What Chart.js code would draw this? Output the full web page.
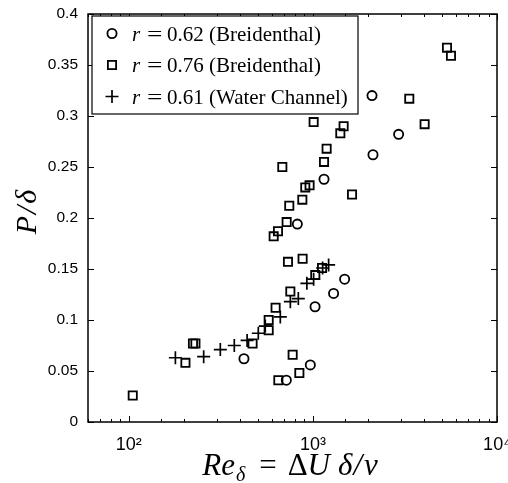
<!DOCTYPE html>
<html>
<head>
<meta charset="utf-8">
<script src="https://cdn.jsdelivr.net/npm/chart.js@4"></script>
<style>
  body { margin: 0; background: #fff; }
  #wrap { width: 508px; height: 483px; }
</style>
</head>
<body>
<div id="wrap"><canvas id="grafico" width="508" height="483"></canvas></div>
<script>
// r = 0.62 (Breidenthal)
const reCirculo = [2094, 2921, 2120, 1149, 823, 1487, 1295, 1027, 422, 968, 717];
const pCirculo  = [0.320, 0.282, 0.262, 0.238, 0.194, 0.140, 0.126, 0.113, 0.062, 0.056, 0.041];

// r = 0.76 (Breidenthal)
const reCuadro = [5350, 5623, 3338, 1009, 1468, 4044, 1409, 1187, 1149, 682, 959, 909, 1631, 876, 744,
                  720, 646, 612, 732, 879, 1121, 1030, 754, 627, 575, 575, 470, 223, 230, 203, 776,
                  844, 649, 105];
const pCuadro  = [0.367, 0.359, 0.317, 0.294, 0.290, 0.292, 0.283, 0.268, 0.255, 0.250, 0.232, 0.230,
                  0.223, 0.218, 0.212, 0.196, 0.187, 0.182, 0.157, 0.160, 0.151, 0.144, 0.128, 0.112,
                  0.100, 0.090, 0.077, 0.077, 0.077, 0.058, 0.066, 0.048, 0.041, 0.026];

// r = 0.61 (Water Channel)
const reCruz = [179, 255, 314, 374, 439, 505, 551, 665, 754, 833, 927, 1009, 1129, 1217];
const pCruz  = [0.063, 0.064, 0.071, 0.075, 0.080, 0.087, 0.094, 0.103, 0.118, 0.121, 0.136, 0.140, 0.151, 0.154];

const etiquetas = ['0.62 (Breidenthal)', '0.76 (Breidenthal)', '0.61 (Water Channel)'];
const yTicks = [0, 0.05, 0.1, 0.15, 0.2, 0.25, 0.3, 0.35, 0.4];

const sup = { 1: '\u00b9', 2: '\u00b2', 3: '\u00b3', 4: '\u2074' };

function puntos(xs, ys) {
  return xs.map((x, i) => ({ x: x, y: ys[i] }));
}

const serif = '"Liberation Serif", "DejaVu Serif", serif';
const sans = '"Liberation Sans", Arial, sans-serif';

const series = [
  { data: puntos(reCirculo, pCirculo), pointStyle: 'circle', radius: 4.6, borderWidth: 1.8 },
  { data: puntos(reCuadro, pCuadro), pointStyle: 'rect', radius: 5.8, borderWidth: 1.8 },
  { data: puntos(reCruz, pCruz), pointStyle: 'cross', radius: 6.5, borderWidth: 1.7 }
];

// dibuja trozos de texto seguidos: [texto, fuente, separacion previa, desplazamiento vertical]
function textoCompuesto(ctx, partes, xc, y) {
  let total = 0;
  partes.forEach(p => { ctx.font = p[1]; p.w = ctx.measureText(p[0]).width; total += p.w + p[2]; });
  let x = xc - total / 2;
  partes.forEach(p => {
    ctx.font = p[1];
    x += p[2];
    ctx.fillText(p[0], x, y + p[3]);
    x += p.w;
  });
}

// ticks hacia dentro, marco, leyenda y titulos de ejes
const marco = {
  id: 'marco',
  afterDraw(chart) {
    const ctx = chart.ctx;
    const a = chart.chartArea;
    const sx = chart.scales.x, sy = chart.scales.y;
    ctx.save();
    ctx.strokeStyle = '#000';
    ctx.lineWidth = 1;
    ctx.beginPath();
    sx.ticks.forEach(t => {
      const px = Math.round(sx.getPixelForValue(t.value)) + 0.5;
      const l = Math.log10(t.value);
      const len = Math.abs(l - Math.round(l)) < 1e-9 ? 6 : 3;
      ctx.moveTo(px, a.bottom); ctx.lineTo(px, a.bottom - len);
      ctx.moveTo(px, a.top); ctx.lineTo(px, a.top + len);
    });
    yTicks.forEach(v => {
      const py = Math.round(sy.getPixelForValue(v)) + 0.5;
      ctx.moveTo(a.left, py); ctx.lineTo(a.left + 6, py);
      ctx.moveTo(a.right, py); ctx.lineTo(a.right - 6, py);
    });
    ctx.stroke();

    ctx.lineWidth = 1.5;
    ctx.strokeRect(a.left, a.top, a.right - a.left, a.bottom - a.top);

    // leyenda
    const lx = a.left + 4, ly = a.top + 2;
    ctx.fillStyle = '#fff';
    ctx.fillRect(lx, ly, 266, 98);
    ctx.lineWidth = 1.2;
    ctx.strokeRect(lx, ly, 266, 98);
    const filas = [17.5, 49, 80.5];
    series.forEach((s, i) => {
      const y = ly + filas[i];
      ctx.fillStyle = 'rgba(0,0,0,0)';
      ctx.strokeStyle = '#000';
      ctx.lineWidth = s.borderWidth;
      Chart.helpers.drawPoint(ctx, { pointStyle: s.pointStyle, radius: s.radius, rotation: 0, borderWidth: s.borderWidth }, lx + 20, y);
      ctx.fillStyle = '#000';
      ctx.textBaseline = 'alphabetic';
      ctx.textAlign = 'left';
      ctx.font = 'italic 21px ' + serif;
      ctx.fillText('r', lx + 40, y + 7);
      ctx.font = '21px ' + serif;
      ctx.save();
      ctx.translate(lx + 55, y + 7);
      ctx.scale(1.3, 1);
      ctx.fillText('=', 0, 0);
      ctx.restore();
      ctx.fillText(etiquetas[i], lx + 75, y + 7);
    });

    // titulo eje y
    ctx.fillStyle = '#000';
    ctx.save();
    ctx.translate(28, 212);
    ctx.rotate(-Math.PI / 2);
    ctx.textAlign = 'left';
    ctx.textBaseline = 'middle';
    textoCompuesto(ctx, [
      ['P', 'italic 30px ' + serif, 0, 0],
      ['/', 'italic 30px ' + serif, 2, 0],
      ['\u03b4', 'italic 30px ' + serif, 2, 0]
    ], 0, 0);
    ctx.restore();

    // titulo eje x
    ctx.textAlign = 'left';
    ctx.textBaseline = 'alphabetic';
    textoCompuesto(ctx, [
      ['Re', 'italic 31px ' + serif, 0, 0],
      ['\u03b4', 'italic 20px ' + serif, 1, 6],
      ['=', '31px ' + serif, 14, 0],
      ['\u0394', '31px ' + serif, 11, 0],
      ['U', 'italic 31px ' + serif, 0, 0],
      ['\u03b4', 'italic 31px ' + serif, 8, 0],
      ['/', 'italic 31px ' + serif, 1, 0],
      ['\u03bd', 'italic 31px ' + serif, 2, 0]
    ], 290, 475);
    ctx.restore();
  }
};

new Chart(document.getElementById('grafico'), {
  type: 'scatter',
  data: {
    datasets: series.map((s, i) => ({
      label: 'r = ' + etiquetas[i],
      data: s.data,
      pointStyle: s.pointStyle,
      pointRadius: s.radius,
      pointHoverRadius: s.radius,
      pointBorderWidth: s.borderWidth,
      borderColor: '#000',
      backgroundColor: 'rgba(0,0,0,0)'
    }))
  },
  options: {
    responsive: false,
    animation: false,
    devicePixelRatio: 1,
    layout: { padding: { top: 14, right: 11, left: 0, bottom: 0 } },
    plugins: { legend: { display: false }, tooltip: { enabled: false } },
    scales: {
      x: {
        type: 'logarithmic',
        min: 60,
        max: 10000,
        grid: { display: false, drawTicks: false },
        border: { display: false },
        ticks: {
          autoSkip: false,
          maxRotation: 0,
          padding: 12,
          color: '#000',
          font: { family: sans, size: 18 },
          callback: v => {
            const l = Math.log10(v);
            return Math.abs(l - Math.round(l)) < 1e-9 ? '10' + sup[Math.round(l)] : '';
          }
        },
        afterFit: s => { s.height = 61; s.paddingLeft = 0; s.paddingRight = 0; }
      },
      y: {
        min: 0,
        max: 0.4,
        grid: { display: false, drawTicks: false },
        border: { display: false },
        ticks: {
          stepSize: 0.05,
          padding: 10,
          color: '#000',
          font: { family: sans, size: 15.5 },
          callback: v => String(+v.toFixed(2))
        },
        afterFit: s => { s.width = 88; s.paddingTop = 0; s.paddingBottom = 0; }
      }
    }
  },
  plugins: [marco]
});
</script>
</body>
</html>
